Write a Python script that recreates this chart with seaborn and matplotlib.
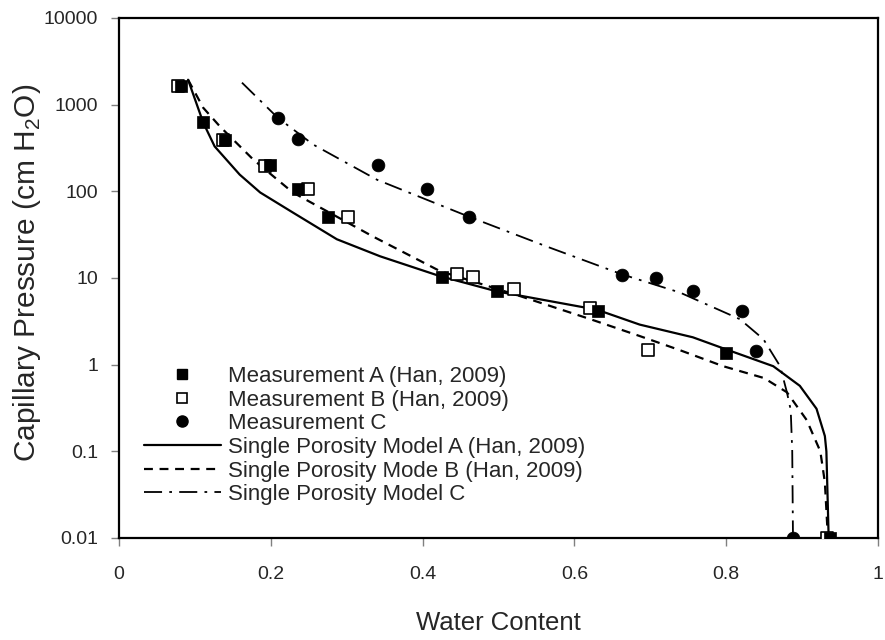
import numpy as np
import pandas as pd
import matplotlib
matplotlib.use("Agg")
import matplotlib.pyplot as plt
import seaborn as sns
from matplotlib.lines import Line2D
from matplotlib.ticker import FixedLocator, NullLocator

# Measurements
meas_a_x = [0.082, 0.111, 0.140, 0.199, 0.236, 0.275, 0.425, 0.498, 0.631, 0.800, 0.937]
meas_a_y = [1660, 635, 395, 203, 107, 51, 10.2, 7.0, 4.2, 1.38, 0.01]
meas_b_x = [0.078, 0.137, 0.192, 0.249, 0.302, 0.445, 0.466, 0.520, 0.621, 0.697, 0.933]
meas_b_y = [1660, 395, 198, 107, 51, 11, 10.4, 7.4, 4.5, 1.47, 0.01]
meas_c_x = [0.209, 0.236, 0.341, 0.406, 0.461, 0.663, 0.707, 0.756, 0.821, 0.839, 0.888]
meas_c_y = [708, 407, 203, 107, 51, 10.7, 9.9, 7.0, 4.2, 1.43, 0.01]

# Models
model_a_x = [0.091, 0.111, 0.126, 0.159, 0.186, 0.229, 0.287, 0.344, 0.423, 0.498,
             0.630, 0.686, 0.756, 0.800, 0.862, 0.897, 0.919, 0.930, 0.932, 0.935]
model_a_y = [1940, 620, 330, 156, 97, 57, 28, 17.8, 10.5, 7.0,
             4.3, 2.9, 2.07, 1.5, 0.96, 0.57, 0.31, 0.15, 0.1, 0.01]
model_b_x = [0.091, 0.111, 0.133, 0.177, 0.229, 0.287, 0.335, 0.423, 0.528, 0.621,
             0.686, 0.739, 0.796, 0.850, 0.880, 0.906, 0.924, 0.930, 0.934]
model_b_y = [1940, 920, 560, 232, 97, 51, 30, 12, 6.2, 3.35,
             2.14, 1.47, 0.96, 0.70, 0.48, 0.23, 0.1, 0.044, 0.01]
model_c_x = [0.162, 0.209, 0.256, 0.340, 0.461, 0.564, 0.663, 0.739, 0.818, 0.849,
             0.871, 0.880, 0.885, 0.887, 0.888]
model_c_y = [1795, 708, 346, 136, 51, 23, 11, 6.8, 3.35, 1.97,
             0.96, 0.48, 0.30, 0.1, 0.01]

x_ticks = [0, 0.2, 0.4, 0.6, 0.8, 1.0]
x_tick_labels = ["0", "0.2", "0.4", "0.6", "0.8", "1"]
y_ticks = [0.01, 0.1, 1, 10, 100, 1000, 10000]
y_tick_labels = ["0.01", "0.1", "1", "10", "100", "1000", "10000"]

sns.set_style("white")
plt.rcParams['font.family'] = ['Liberation Sans', 'DejaVu Sans']
plt.rcParams['mathtext.fontset'] = 'custom'
plt.rcParams['mathtext.rm'] = 'Liberation Sans'

fig = plt.figure(figsize=(8.85, 6.4), dpi=100)
ax = fig.add_axes([119/885, 1-538/640, (878-119)/885, (538-18)/640])

ma = pd.DataFrame({"x": model_a_x, "y": model_a_y})
mb = pd.DataFrame({"x": model_b_x, "y": model_b_y})
mc = pd.DataFrame({"x": model_c_x, "y": model_c_y})
sns.lineplot(data=ma, x="x", y="y", sort=False, ax=ax, color="black", lw=1.6, estimator=None)
sns.lineplot(data=mb, x="x", y="y", sort=False, ax=ax, color="black", lw=1.6, estimator=None,
             linestyle=(0, (4, 3)))
sns.lineplot(data=mc, x="x", y="y", sort=False, ax=ax, color="black", lw=1.3, estimator=None,
             linestyle=(0, (10, 4, 1.5, 4)))

da = pd.DataFrame({"x": meas_a_x, "y": meas_a_y})
db = pd.DataFrame({"x": meas_b_x, "y": meas_b_y})
dc = pd.DataFrame({"x": meas_c_x, "y": meas_c_y})
sns.scatterplot(data=db, x="x", y="y", ax=ax, marker="s", s=72, facecolor="white",
                edgecolor="black", linewidth=1.2, zorder=3)
sns.scatterplot(data=da, x="x", y="y", ax=ax, marker="s", s=80, color="black",
                edgecolor="black", linewidth=0.5, zorder=4)
sns.scatterplot(data=dc, x="x", y="y", ax=ax, marker="o", s=85, color="black",
                edgecolor="black", linewidth=0.5, zorder=4)

ax.set_yscale("log")
ax.set_xlim(0, 1)
ax.set_ylim(0.01, 10000)
ax.xaxis.set_major_locator(FixedLocator(x_ticks))
ax.set_xticklabels(x_tick_labels)
ax.yaxis.set_major_locator(FixedLocator(y_ticks))
ax.yaxis.set_minor_locator(NullLocator())
ax.set_yticklabels(y_tick_labels)
ax.tick_params(axis="both", which="major", direction="out", length=6, width=1,
               color="#808080", labelsize=14, bottom=True, left=True)
ax.tick_params(axis="x", pad=14)
ax.tick_params(axis="y", pad=9)
for sp in ax.spines.values():
    sp.set_color("black")
    sp.set_linewidth(1.6)

ax.set_xlabel("Water Content", fontsize=18.5)
ax.set_ylabel("Capillary Pressure (cm H$_2$O)", fontsize=21.5)
ax.xaxis.set_label_coords(0.5, -0.140)
ax.yaxis.set_label_coords(-0.100, 0.51)

handles = [
    Line2D([], [], ls="none", marker="s", color="black", markersize=7.5),
    Line2D([], [], ls="none", marker="s", markerfacecolor="white", markeredgecolor="black",
           markersize=7.5, markeredgewidth=1.2),
    Line2D([], [], ls="none", marker="o", color="black", markersize=8),
    Line2D([], [], color="black", lw=1.6),
    Line2D([], [], color="black", lw=1.6, linestyle=(0, (4, 3))),
    Line2D([], [], color="black", lw=1.3, linestyle=(0, (10, 4, 1.5, 4))),
]
labels = ["Measurement A (Han, 2009)", "Measurement B (Han, 2009)", "Measurement C",
          "Single Porosity Model A (Han, 2009)", "Single Porosity Mode B (Han, 2009)",
          "Single Porosity Model C"]
ax.legend(handles, labels, loc="lower left", bbox_to_anchor=(0.033, 0.063), frameon=False,
          fontsize=16, handlelength=3.45, handletextpad=0.35, labelspacing=0.12,
          borderaxespad=0.0, borderpad=0.0)

fig.savefig("out.png", dpi=100)
